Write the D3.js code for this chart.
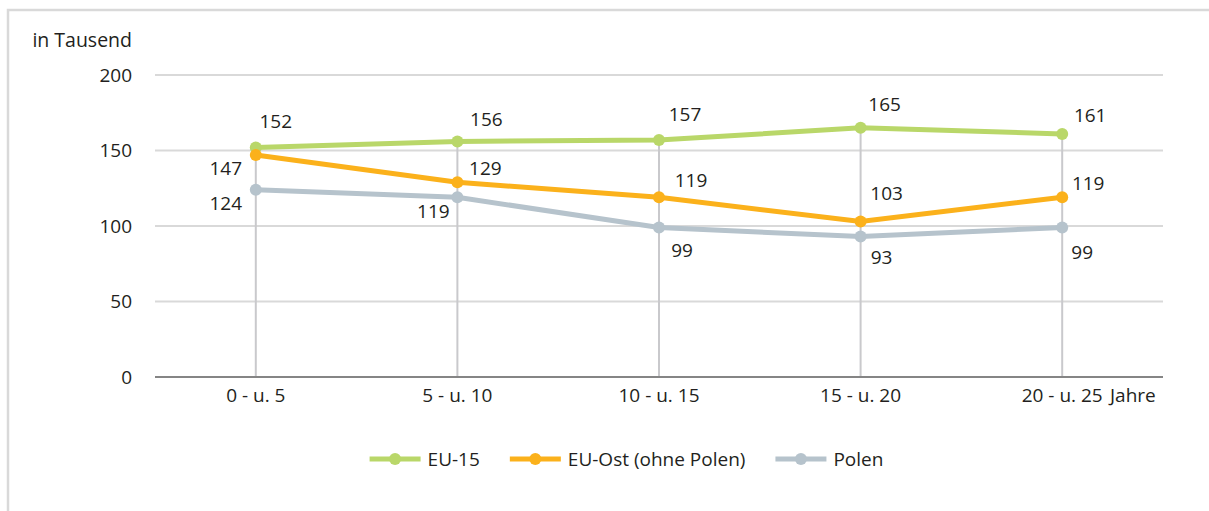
<!DOCTYPE html>
<html>
<head>
<meta charset="utf-8">
<script src="https://cdn.jsdelivr.net/npm/d3@7"></script>
<style>
  body { margin: 0; background: #fff; }
  text { font-family: "Open Sans", sans-serif; fill: #231f20; }
</style>
</head>
<body>
<div id="chart"></div>
<script>
// data (thousands)
var categories = ["0 - u. 5", "5 - u. 10", "10 - u. 15", "15 - u. 20", "20 - u. 25"];
var seriesNames = ["EU-15", "EU-Ost (ohne Polen)", "Polen"];
var eu15 = [152, 156, 157, 165, 161];
var euOst = [147, 129, 119, 103, 119];
var polen = [124, 119, 99, 93, 99];
var yTicks = [0, 50, 100, 150, 200];

var colors = ["#b9d769", "#fbb11b", "#b6c3cc"];

// label offsets relative to each point (dx, dy of text baseline)
var labelOffsets = [
    [[20, -19], [29, -15], [26, -19], [24, -17], [28, -12]],
    [[-30, 20], [28, -7], [32, -10], [26, -21], [26, -7]],
    [[-30, 20], [-24, 21], [23, 29], [21, 27], [20, 31]]
];

var width = 1209, height = 511;
var plot = { left: 155, right: 1163, top: 75, bottom: 377 };

var series = [eu15, euOst, polen].map(function (values, i) {
    return { name: seriesNames[i], color: colors[i], values: values, offsets: labelOffsets[i] };
});

var svg = d3.select("#chart").append("svg")
    .attr("width", width)
    .attr("height", height);

// outer frame (top and left)
svg.append("path")
    .attr("d", "M8," + height + "V10H" + width)
    .attr("fill", "none")
    .attr("stroke", "#d9d9d9")
    .attr("stroke-width", 2.5);

var x = d3.scaleBand().domain(categories).range([plot.left, plot.right]);
var y = d3.scaleLinear().domain([0, 200]).range([plot.bottom, plot.top]);
function cx(i) { return x(categories[i]) + x.bandwidth() / 2; }

// gridlines
svg.append("g").selectAll("line")
    .data(yTicks.filter(function (d) { return d > 0; }))
    .enter().append("line")
    .attr("x1", plot.left).attr("x2", plot.right)
    .attr("y1", function (d) { return y(d); })
    .attr("y2", function (d) { return y(d); })
    .attr("stroke", "#d9d9d9")
    .attr("stroke-width", 2);

// y tick labels
svg.append("g").selectAll("text")
    .data(yTicks)
    .enter().append("text")
    .attr("x", 132)
    .attr("y", function (d) { return y(d); })
    .attr("dy", "0.36em")
    .attr("text-anchor", "end")
    .style("font-size", "19px")
    .text(function (d) { return d; });

svg.append("text")
    .attr("x", 132).attr("y", 47)
    .attr("text-anchor", "end")
    .style("font-size", "19.5px")
    .text("in Tausend");

// drop lines from highest point to the axis
svg.append("g").selectAll("line")
    .data(categories)
    .enter().append("line")
    .attr("x1", function (d, i) { return cx(i); })
    .attr("x2", function (d, i) { return cx(i); })
    .attr("y1", function (d, i) { return y(d3.max(series, function (s) { return s.values[i]; })); })
    .attr("y2", y(0))
    .attr("stroke", "#c9c9cc")
    .attr("stroke-width", 2);

// x axis line
svg.append("line")
    .attr("x1", plot.left).attr("x2", plot.right)
    .attr("y1", y(0)).attr("y2", y(0))
    .attr("stroke", "#858585")
    .attr("stroke-width", 2);

// category labels
svg.append("g").selectAll("text")
    .data(categories)
    .enter().append("text")
    .attr("x", function (d, i) { return cx(i); })
    .attr("y", 402)
    .attr("text-anchor", "middle")
    .style("font-size", "19px")
    .text(function (d) { return d; });

svg.append("text")
    .attr("x", 1110).attr("y", 402)
    .style("font-size", "19px")
    .text("Jahre");

// series
var line = d3.line()
    .x(function (d, i) { return cx(i); })
    .y(function (d) { return y(d); });

var sg = svg.selectAll(".series")
    .data(series)
    .enter().append("g")
    .attr("class", "series");

sg.append("path")
    .attr("d", function (s) { return line(s.values); })
    .attr("fill", "none")
    .attr("stroke", function (s) { return s.color; })
    .attr("stroke-width", 5);

sg.selectAll("circle")
    .data(function (s) { return s.values.map(function (v) { return { v: v, color: s.color }; }); })
    .enter().append("circle")
    .attr("cx", function (d, i) { return cx(i); })
    .attr("cy", function (d) { return y(d.v); })
    .attr("r", 6)
    .attr("fill", function (d) { return d.color; });

sg.selectAll(".lbl")
    .data(function (s) { return s.values.map(function (v, i) { return { v: v, off: s.offsets[i] }; }); })
    .enter().append("text")
    .attr("class", "lbl")
    .attr("x", function (d, i) { return cx(i) + d.off[0]; })
    .attr("y", function (d) { return y(d.v) + d.off[1]; })
    .attr("text-anchor", "middle")
    .style("font-size", "19px")
    .text(function (d) { return d.v; });

// legend
var legend = svg.append("g");
var items = legend.selectAll("g")
    .data(series)
    .enter().append("g");

items.append("line")
    .attr("x1", 0).attr("x2", 51)
    .attr("y1", 0).attr("y2", 0)
    .attr("stroke", function (s) { return s.color; })
    .attr("stroke-width", 5);
items.append("circle")
    .attr("cx", 25.5).attr("cy", 0).attr("r", 6)
    .attr("fill", function (s) { return s.color; });
items.append("text")
    .attr("x", 58).attr("dy", "0.36em")
    .style("font-size", "19px")
    .text(function (s) { return s.name; });

var pos = 0, gap = 30, starts = [];
items.each(function () {
    starts.push(pos);
    pos += 58 + d3.select(this).select("text").node().getComputedTextLength() + gap;
});
var total = pos - gap;
var legendLeft = 626.5 - total / 2;
items.attr("transform", function (d, i) { return "translate(" + (legendLeft + starts[i]) + ",459)"; });
</script>
</body>
</html>
